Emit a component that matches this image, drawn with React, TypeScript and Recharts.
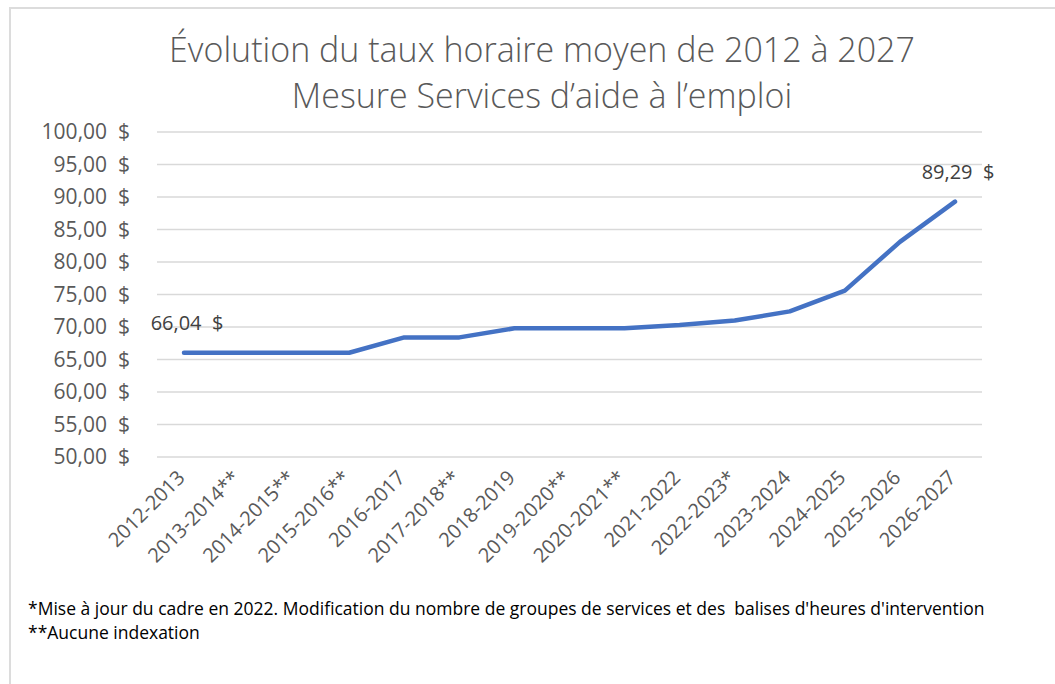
import { LineChart, Line, XAxis, YAxis, CartesianGrid } from "recharts";

const periods = [
  "2012-2013",
  "2013-2014**",
  "2014-2015**",
  "2015-2016**",
  "2016-2017",
  "2017-2018**",
  "2018-2019",
  "2019-2020**",
  "2020-2021**",
  "2021-2022",
  "2022-2023*",
  "2023-2024",
  "2024-2025",
  "2025-2026",
  "2026-2027",
];

const hourlyRates = [
  66.04, 66.04, 66.04, 66.04, 68.4, 68.4, 69.8, 69.8, 69.8, 70.3, 71.0, 72.4,
  75.6, 83.1, 89.29,
];

const yTicks = [50, 55, 60, 65, 70, 75, 80, 85, 90, 95, 100];

const data = periods.map((p, i) => ({ period: p, rate: hourlyRates[i] }));

const FONT = "'Open Sans', 'DejaVu Sans', sans-serif";

// format à la Excel : 66,04  $
const money = (v: number) => v.toFixed(2).replace(".", ",") + "\u00A0\u00A0$";

const YTick = ({ x, y, payload }: any) => (
  <text
    x={x - 19}
    y={y}
    dy="0.35em"
    textAnchor="end"
    fill="#595959"
    fontSize={21}
    fontFamily={FONT}
  >
    {money(payload.value)}
  </text>
);

const XTick = ({ x, y, payload }: any) => (
  <g transform={`translate(${x + 2},${y + 14})`}>
    <text
      textAnchor="end"
      transform="rotate(-45)"
      fill="#595959"
      fontSize={20}
      fontFamily={FONT}
    >
      {payload.value}
    </text>
  </g>
);

// étiquettes seulement sur le premier et le dernier point
const EndLabel = ({ x, y, index, value }: any) => {
  if (index !== 0 && index !== hourlyRates.length - 1) return null;
  return (
    <text
      x={x + 3}
      y={y - 23}
      textAnchor="middle"
      fill="#404040"
      fontSize={20}
      fontFamily={FONT}
    >
      {money(value)}
    </text>
  );
};

export default function App() {
  return (
    <div
      style={{
        position: "absolute",
        left: 0,
        top: 0,
        width: 1055,
        height: 684,
        overflow: "hidden",
        background: "#fff",
        fontFamily: FONT,
      }}
    >
      {/* cadre */}
      <div
        style={{
          position: "absolute",
          left: 9,
          top: 7,
          width: 1100,
          height: 700,
          borderLeft: "2px solid #dcdcdc",
          borderTop: "2px solid #dcdcdc",
        }}
      />

      {/* titre */}
      <div
        style={{
          position: "absolute",
          left: 0,
          top: 26,
          width: 1084,
          textAlign: "center",
          fontSize: 34,
          lineHeight: "46px",
          fontWeight: 300,
          color: "#595959",
        }}
      >
        <div>Évolution du taux horaire moyen de 2012 à 2027</div>
        <div>Mesure Services d’aide à l’emploi</div>
      </div>

      <div style={{ position: "absolute", left: 0, top: 0 }}>
        <LineChart
          width={1055}
          height={684}
          data={data}
          margin={{ top: 132, right: 73, bottom: 0, left: 0 }}
        >
          <CartesianGrid
            vertical={false}
            stroke="#d9d9d9"
            strokeWidth={1.5}
          />
          <XAxis
            dataKey="period"
            interval={0}
            axisLine={false}
            tickLine={false}
            height={227}
            padding={{ left: 27, right: 27 }}
            tick={<XTick />}
          />
          <YAxis
            domain={[50, 100]}
            ticks={yTicks}
            axisLine={false}
            tickLine={false}
            width={157}
            tick={<YTick />}
          />
          <Line
            type="linear"
            dataKey="rate"
            stroke="#4472C4"
            strokeWidth={4.5}
            strokeLinecap="round"
            strokeLinejoin="round"
            dot={false}
            label={<EndLabel />}
            isAnimationActive={false}
          />
        </LineChart>
      </div>

      {/* notes */}
      <div
        style={{
          position: "absolute",
          left: 28,
          top: 596,
          fontSize: 17.5,
          lineHeight: "24px",
          color: "#000",
          whiteSpace: "pre",
        }}
      >
        <div>
          *Mise à jour du cadre en 2022. Modification du nombre de groupes de
          services et des  balises d'heures d'intervention
        </div>
        <div>**Aucune indexation</div>
      </div>
    </div>
  );
}
